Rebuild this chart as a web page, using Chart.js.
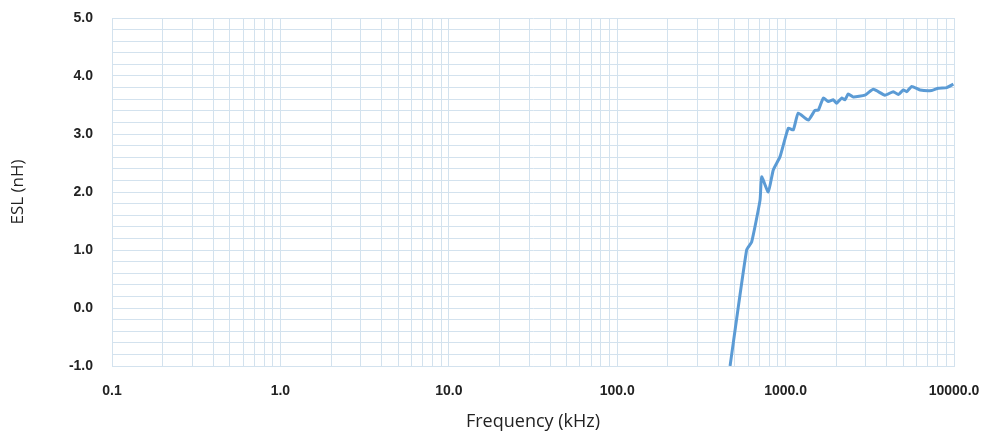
<!DOCTYPE html>
<html>
<head>
<meta charset="utf-8">
<script src="https://cdn.jsdelivr.net/npm/chart.js@4.4.1/dist/chart.umd.min.js"></script>
<style>
  html, body { margin: 0; padding: 0; background: #fff; }
  #wrap { width: 983px; height: 437px; }
</style>
</head>
<body>
<div id="wrap"><canvas id="chart"></canvas></div>
<script>
// ESL vs frequency
const freqKHz = [468, 587, 629, 705, 721, 789, 845, 927, 1038, 1111, 1189, 1364, 1495, 1564,
  1675, 1792, 1919, 2009, 2153, 2251, 2356, 2523, 2959, 3318, 3891, 4364, 4670, 5003, 5240,
  5610, 6285, 7377, 8075, 9060, 9910];
const eslNH = [-1.0, 1.0, 1.14, 1.86, 2.26, 2.0, 2.38, 2.61, 3.1, 3.07, 3.36, 3.24, 3.41, 3.41,
  3.62, 3.56, 3.59, 3.53, 3.62, 3.59, 3.69, 3.64, 3.67, 3.77, 3.67, 3.73, 3.68, 3.76, 3.73,
  3.82, 3.76, 3.75, 3.79, 3.8, 3.86];

const xMin = 0.1;
const xMax = 10000;
const yMin = -1;
const yMax = 5;
const yStep = 0.2;

const GRID = "#d3e2ee";
const LINE = "#5b9bd5";
const TICK_FONT = { family: "'Liberation Sans', Arial, sans-serif", size: 14, weight: "bold" };
const TITLE_FAMILY = "'Open Sans', sans-serif";

// one tick at every 1..9 × 10^n, labels only on the decades
const logTicks = () => {
  const out = [];
  for (let e = Math.log10(xMin); e < Math.log10(xMax); e++) {
    for (let m = 1; m <= 9; m++) out.push({ value: m * Math.pow(10, e) });
  }
  out.push({ value: xMax });
  return out;
};

const isDecade = (v) => Math.abs(Math.log10(v) - Math.round(Math.log10(v))) < 1e-9;

new Chart(document.getElementById("chart"), {
  type: "line",
  data: {
    datasets: [{
      data: freqKHz.map((f, i) => ({ x: f, y: eslNH[i] })),
      borderColor: LINE,
      borderWidth: 3,
      pointRadius: 0,
      tension: 0.15,
      fill: false,
    }],
  },
  options: {
    responsive: true,
    maintainAspectRatio: false,
    animation: false,
    layout: { padding: { top: 18, right: 29, left: 0, bottom: 0 } },
    plugins: { legend: { display: false }, tooltip: { enabled: false } },
    scales: {
      x: {
        type: "logarithmic",
        min: xMin,
        max: xMax,
        afterBuildTicks: (axis) => { axis.ticks = logTicks(); },
        afterFit: (axis) => {
          axis.height = 71;
          axis.paddingLeft = 0;
          axis.paddingRight = 0;
        },
        border: { color: GRID },
        grid: { color: GRID, drawTicks: false },
        ticks: {
          autoSkip: false,
          maxRotation: 0,
          padding: 17,
          color: "#222",
          font: TICK_FONT,
          callback: (v) => (isDecade(v) ? Number(v).toFixed(1) : ""),
        },
        title: {
          display: true,
          text: "Frequency (kHz)",
          color: "#222",
          font: { family: TITLE_FAMILY, size: 18 },
          padding: { top: 2 },
        },
      },
      y: {
        type: "linear",
        min: yMin,
        max: yMax,
        afterFit: (axis) => {
          axis.width = 112;
          axis.paddingTop = 0;
          axis.paddingBottom = 0;
        },
        border: { color: GRID },
        grid: { color: GRID, drawTicks: false },
        ticks: {
          stepSize: yStep,
          autoSkip: false,
          padding: 19,
          color: "#222",
          font: TICK_FONT,
          callback: (v) => (Math.abs(v - Math.round(v)) < 1e-6 ? Math.round(v).toFixed(1) : ""),
        },
        title: {
          display: true,
          text: "ESL (nH)",
          color: "#222",
          font: { family: TITLE_FAMILY, size: 17 },
          padding: { top: 8, bottom: 0 },
        },
      },
    },
  },
});
</script>
</body>
</html>
